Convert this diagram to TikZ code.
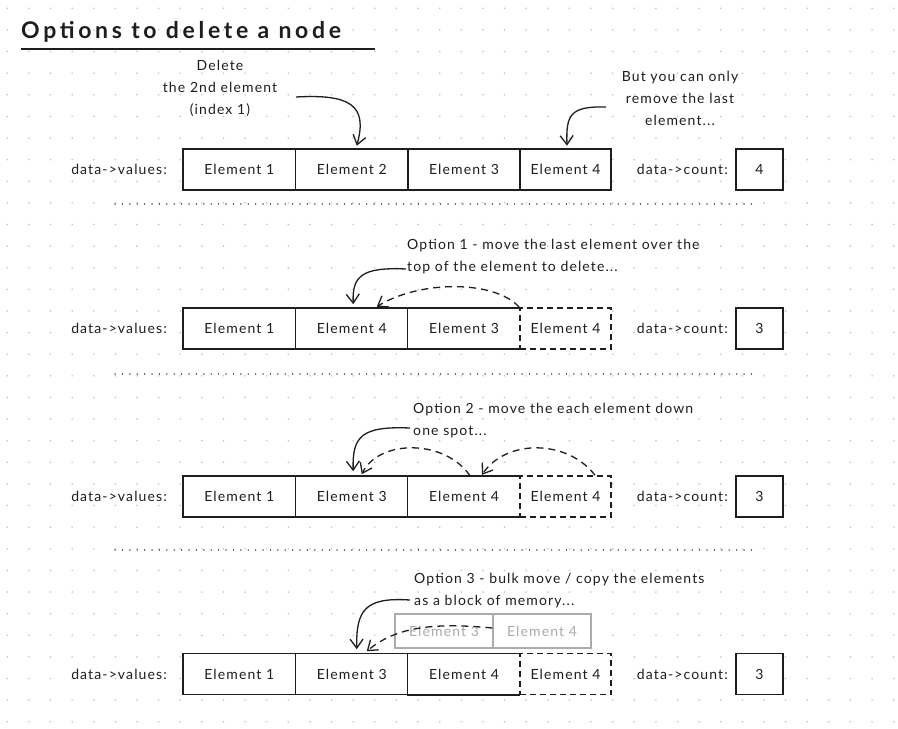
\documentclass[tikz,border=0pt]{standalone}
\usepackage{fontspec}
\setmainfont{Lato}
\newfontfamily\bodyfont[LetterSpace=8]{Lato}
\newfontfamily\titlefont[LetterSpace=16]{Lato}
\usetikzlibrary{arrows.meta}
\definecolor{ink}{HTML}{1E1E1E}
\definecolor{griddot}{HTML}{C4C4C4}
\definecolor{ghost}{HTML}{ABABAB}
\begin{document}
\begin{tikzpicture}[x=1pt,y=-1pt,
  txt/.style={font=\bodyfont\fontsize{14}{22}\selectfont, text=ink, inner sep=0pt},
  cell/.style={txt, fill=white, draw=ink, line width=1.6pt, minimum width=112.5pt, minimum height=41pt},
  lastcell/.style={cell, minimum width=91pt},
  opencell/.style={txt, fill=white, minimum width=112.5pt, minimum height=41pt},
  dashcell/.style={lastcell, dash pattern=on 6pt off 4pt},
  countcell/.style={cell, minimum width=47pt},
  ghostcell/.style={txt, text=ghost, fill=white, draw=ghost, line width=1.4pt, minimum width=98pt, minimum height=34pt},
  tipv/.tip={Straight Barb[length=9pt,width=13pt,line width=1.3pt]},
  pointer/.style={draw=ink, line width=1.3pt, -tipv},
  moved/.style={pointer, dash pattern=on 7pt off 5pt},
  sep/.style={draw=ink!75, line width=1.4pt, line cap=round, dash pattern=on 0.1pt off 7.3pt},
]
\fill[white] (0,0) rectangle (898,729);
\useasboundingbox (0,0) rectangle (898,729);
% dot grid
\foreach \i in {0,...,41}{
  \foreach \j in {0,...,33}{
    \fill[griddot] ({7.3+21.62*\i},{8.3+21.62*\j}) circle (0.9);
  }
}
% title
\node[anchor=west, inner sep=0pt, text=ink, font=\titlefont\bfseries\fontsize{23}{27}\selectfont] (title) at (21,32) {Options to delete a node};
\draw[ink, line width=2.4pt] (21,49) -- (375,49);

% ---------- row 1 ----------
\node[txt, anchor=east] (v1) at (167,169.5) {data->values:};
\node[cell] (r1e1) at (239.25,169.5) {Element 1};
\node[cell] (r1e2) at (351.75,169.5) {Element 2};
\node[cell] (r1e3) at (464,169.5) {Element 3};
\node[lastcell] (r1e4) at (565.5,169.5) {Element 4};
\node[txt, anchor=east] (c1) at (728,169.5) {data->count:};
\node[countcell] (n1) at (759.5,169.5) {4};
\node[txt, align=center] (t1) at (220,88) {Delete\\the 2nd element\\(index 1)};
\node[txt, align=center] (t2) at (680,98.5) {But you can only\\remove the last\\element...};
\coordinate (a1s) at (296,97);
\coordinate (a2s) at (606,107);
\draw[pointer] (a1s) .. controls (350,94) and (368,105) .. ([xshift=5pt,yshift=2.5pt]r1e2.north);
\draw[pointer] (a2s) .. controls (570,106) and (566,115) .. ([xshift=1.5pt,yshift=2.5pt]r1e4.north);
\draw[sep] (115,204) -- (755,204);

% ---------- row 2 ----------
\node[txt, anchor=east] (v2) at (167,328.5) {data->values:};
\node[cell] (r2e1) at (239.25,328.5) {Element 1};
\node[cell] (r2e2) at (351.75,328.5) {Element 4};
\node[opencell] (r2e3) at (464,328.5) {Element 3};
\draw[ink, line width=1.6pt] (r2e3.north east) -- (r2e3.north west) -- (r2e3.south west) -- (r2e3.south east);
\node[dashcell] (r2e4) at (565.5,328.5) {Element 4};
\node[txt, anchor=east] (c2) at (728,328.5) {data->count:};
\node[countcell] (n2) at (759.5,328.5) {3};
\node[txt, align=left, anchor=west] (o1) at (407,257) {Option 1 - move the last element over the\\top of the element to delete...};
\coordinate (o1s) at (406,269);
\draw[pointer] (o1s) .. controls (362,267) and (352,276) .. ([xshift=1.5pt,yshift=3pt]r2e2.north);
\draw[moved] (r2e4.north west) .. controls (495,280) and (420,280) .. ([xshift=25pt,yshift=0.5pt]r2e2.north);
\draw[sep] (115,374) -- (755,374);

% ---------- row 3 ----------
\node[txt, anchor=east] (v3) at (167,496.5) {data->values:};
\node[cell] (r3e1) at (239.25,496.5) {Element 1};
\node[cell] (r3e2) at (351.75,496.5) {Element 3};
\node[opencell] (r3e3) at (464,496.5) {Element 4};
\draw[ink, line width=1.6pt] (r3e3.north east) -- (r3e3.north west) -- (r3e3.south west) -- (r3e3.south east);
\node[dashcell] (r3e4) at (565.5,496.5) {Element 4};
\node[txt, anchor=east] (c3) at (728,496.5) {data->count:};
\node[countcell] (n3) at (759.5,496.5) {3};
\node[txt, align=left, anchor=west] (o2) at (413,420.5) {Option 2 - move the each element down\\one spot...};
\coordinate (o2s) at (410,428);
\draw[pointer] (o2s) .. controls (362,426) and (352,436) .. ([xshift=1.5pt,yshift=4pt]r3e2.north);
\draw[moved] ([xshift=6pt]r3e3.north) .. controls (445,439) and (379,439) .. ([xshift=10pt,yshift=1pt]r3e2.north);
\draw[moved] ([xshift=29.5pt]r3e4.north) .. controls (567,439) and (506,439) .. ([xshift=18pt,yshift=1pt]r3e3.north);
\draw[sep] (115,550) -- (755,550);

% ---------- row 4 ----------
\node[txt, anchor=east] (v4) at (167,674) {data->values:};
\node[cell] (r4e1) at (239.25,674) {Element 1};
\node[cell] (r4e2) at (351.75,674) {Element 3};
\node[opencell] (r4e3) at (464,674) {Element 4};
\draw[ink, line width=1.6pt] (r4e3.north east) -- (r4e3.north west) -- (r4e3.south west) -- (r4e3.south east);
\node[dashcell] (r4e4) at (565.5,674) {Element 4};
\node[txt, anchor=east] (c4) at (728,674) {data->count:};
\node[countcell] (n4) at (759.5,674) {3};
\node[ghostcell] (g3) at (444,631) {Element 3};
\node[ghostcell] (g4) at (542,631) {Element 4};
\node[txt, align=left, anchor=west] (o3) at (414,590.5) {Option 3 - bulk move / copy the elements\\as a block of memory...};
\coordinate (o3s) at (410,600);
\draw[pointer] (o3s) .. controls (365,597) and (356,610) .. ([xshift=5pt,yshift=3.5pt]r4e2.north);
\draw[moved] ([yshift=3pt]g4.west) .. controls (430,622) and (395,628) .. ([xshift=15pt,yshift=1.5pt]r4e2.north);
\end{tikzpicture}
\end{document}
